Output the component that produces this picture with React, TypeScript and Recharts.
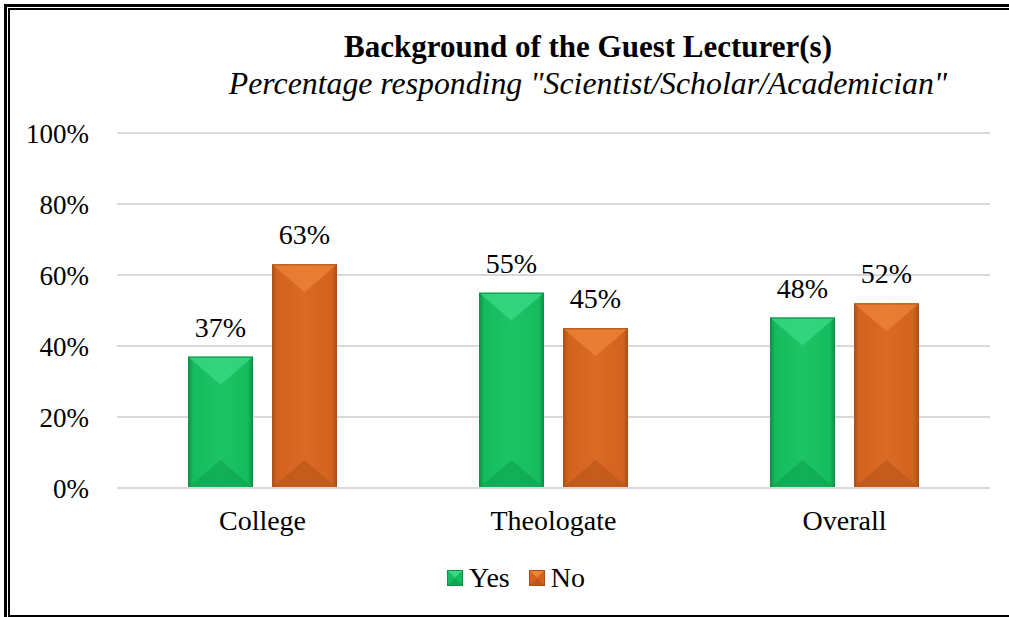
// Grouped bar chart: background of the guest lecturer(s), Yes vs No by group.

import { BarChart, Bar, XAxis, YAxis, CartesianGrid, LabelList } from "recharts";

const categories = ["College", "Theologate", "Overall"];
const yesValues = [37, 55, 48];
const noValues = [63, 45, 52];
const yTicks = [0, 20, 40, 60, 80, 100];

const data = categories.map((name, i) => ({ name, yes: yesValues[i], no: noValues[i] }));

const serif = '"Liberation Serif", "Times New Roman", serif';

const palettes = {
  yes: { edge: "#0b9046", face: "#14bc5d", mid: "#1cc466", top: "#3bd985", bottom: "#0fa552" },
  no: { edge: "#ad4f16", face: "#d3621f", mid: "#da6a25", top: "#ec8438", bottom: "#bb571a" },
};

function bevelShape(kind: "yes" | "no") {
  const p = palettes[kind];
  return (props: any) => {
    const { x, y, width: w, height: h } = props;
    if (!h || h <= 0) return null;
    const d = Math.min(w * 0.43, h / 2);
    const id = `grad-${kind}`;
    return (
      <g>
        <defs>
          <linearGradient id={id} x1="0" y1="0" x2="1" y2="0">
            <stop offset="0" stopColor={p.edge} />
            <stop offset="0.08" stopColor={p.face} />
            <stop offset="0.5" stopColor={p.mid} />
            <stop offset="0.92" stopColor={p.face} />
            <stop offset="1" stopColor={p.edge} />
          </linearGradient>
        </defs>
        <rect x={x} y={y} width={w} height={h} fill={`url(#${id})`} />
        <polygon points={`${x},${y} ${x + w},${y} ${x + w / 2},${y + d}`} fill={p.top} opacity={0.75} />
        <polygon points={`${x},${y + h} ${x + w},${y + h} ${x + w / 2},${y + h - d}`} fill={p.bottom} opacity={0.7} />
        <rect x={x + 0.5} y={y + 0.5} width={w - 1} height={h - 1} fill="none" stroke={p.edge} strokeWidth={1} />
      </g>
    );
  };
}

function LegendIcon({ kind }: { kind: "yes" | "no" }) {
  const p = palettes[kind];
  return (
    <svg width={16} height={16} style={{ marginRight: 6 }}>
      <rect x={0} y={0} width={16} height={16} fill={p.face} />
      <polygon points="0,0 16,0 8,7.5" fill={p.top} />
      <polygon points="0,16 16,16 8,8.5" fill={p.bottom} />
      <rect x={0.5} y={0.5} width={15} height={15} fill="none" stroke={p.edge} />
    </svg>
  );
}

function ChartLegend() {
  const items: Array<{ kind: "yes" | "no"; label: string }> = [
    { kind: "yes", label: "Yes" },
    { kind: "no", label: "No" },
  ];
  return (
    <div
      style={{
        position: "absolute", left: 447, top: 562, display: "flex", alignItems: "center",
        fontFamily: serif, fontSize: 28, lineHeight: "32px", color: "#000",
      }}
    >
      {items.map((it) => (
        <div key={it.kind} style={{ display: "flex", alignItems: "center", marginRight: 19 }}>
          <LegendIcon kind={it.kind} />
          <span>{it.label}</span>
        </div>
      ))}
    </div>
  );
}

export default function App() {
  return (
    <div style={{ position: "absolute", left: 0, top: 0, width: 1009, height: 617, overflow: "hidden", background: "#fff" }}>
      <div style={{ position: "absolute", left: 4, top: 4, width: 1030, height: 630, border: "3px solid #000", boxSizing: "border-box" }} />
      <div style={{ position: "absolute", left: 8, top: 8, width: 1020, height: 609, border: "2px solid #000", boxSizing: "border-box" }} />
      <div style={{ position: "absolute", left: 588, top: 31, transform: "translateX(-50%)", whiteSpace: "nowrap", fontFamily: serif, fontSize: 31, fontWeight: "bold", lineHeight: "31px" }}>
        Background of the Guest Lecturer(s)
      </div>
      <div style={{ position: "absolute", left: 588, top: 68, transform: "translateX(-50%)", whiteSpace: "nowrap", fontFamily: serif, fontSize: 31.8, fontStyle: "italic", lineHeight: "31px" }}>
        Percentage responding "Scientist/Scholar/Academician"
      </div>
      <BarChart
        width={1009}
        height={617}
        data={data}
        margin={{ top: 133, right: 19, bottom: 99, left: 0 }}
        barCategoryGap={71}
        barGap={19}
        style={{ position: "absolute", left: 0, top: 0 }}
      >
        <CartesianGrid vertical={false} stroke="#d9d9d9" strokeWidth={2} />
        <XAxis
          dataKey="name"
          height={30}
          axisLine={{ stroke: "#d9d9d9", strokeWidth: 2 }}
          tickLine={false}
          tickSize={0}
          tickMargin={22}
          tick={{ fontFamily: serif, fontSize: 28, fill: "#000" }}
        />
        <YAxis
          width={117}
          domain={[0, 100]}
          ticks={yTicks}
          axisLine={false}
          tickLine={false}
          tickSize={0}
          tickMargin={28}
          tickFormatter={(v: number) => `${v}%`}
          tick={{ fontFamily: serif, fontSize: 27, fill: "#000" }}
        />
        <Bar dataKey="yes" name="Yes" barSize={65} shape={bevelShape("yes")} isAnimationActive={false}>
          <LabelList
            dataKey="yes"
            position="top"
            offset={20}
            formatter={(v: any) => `${v}%`}
            style={{ fontFamily: serif, fontSize: 28, fill: "#000" }}
          />
        </Bar>
        <Bar dataKey="no" name="No" barSize={65} shape={bevelShape("no")} isAnimationActive={false}>
          <LabelList
            dataKey="no"
            position="top"
            offset={20}
            formatter={(v: any) => `${v}%`}
            style={{ fontFamily: serif, fontSize: 28, fill: "#000" }}
          />
        </Bar>
      </BarChart>
      <ChartLegend />
    </div>
  );
}
